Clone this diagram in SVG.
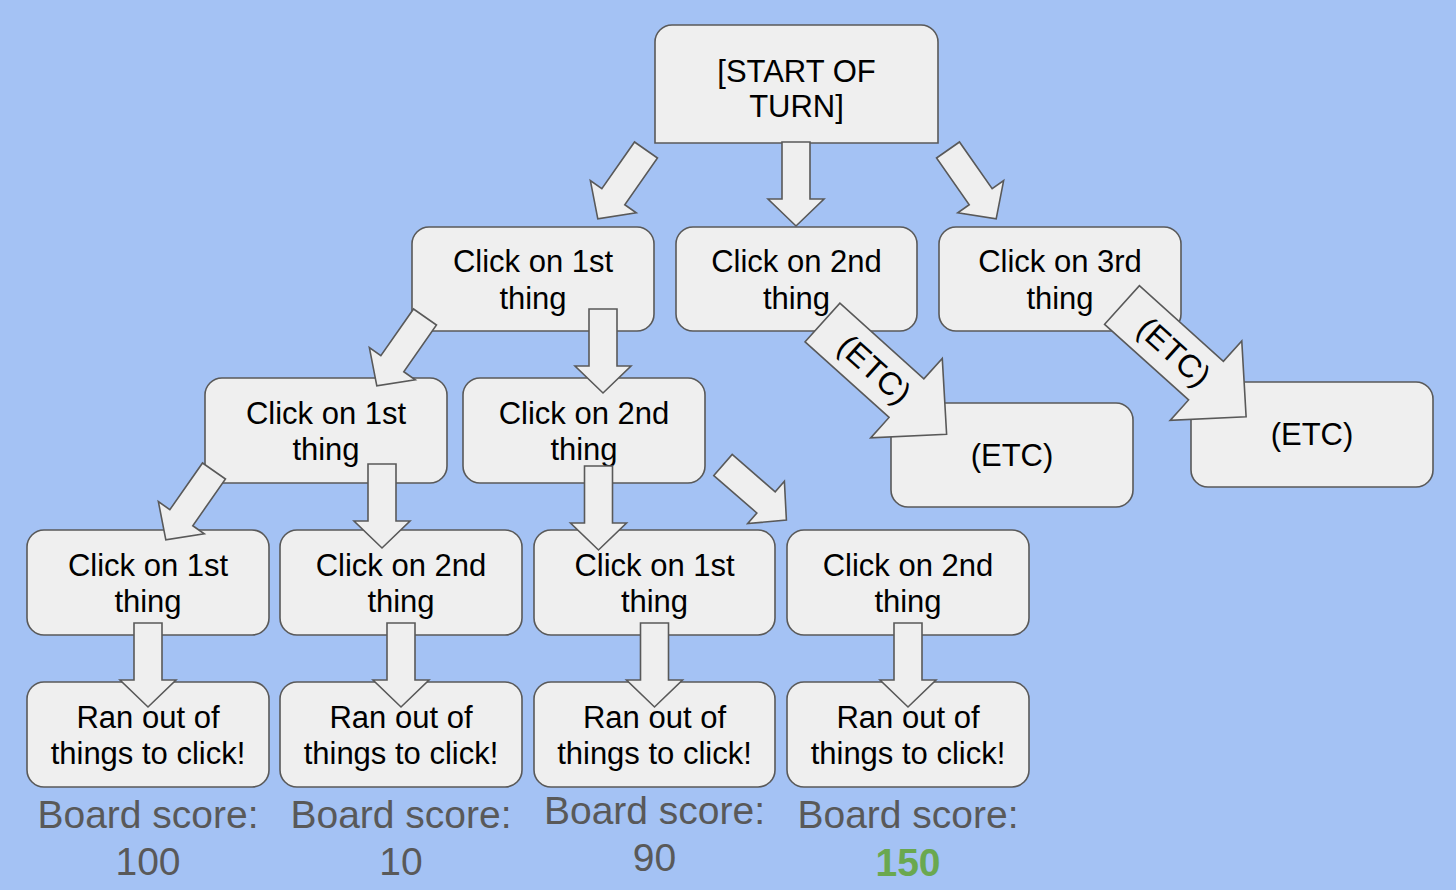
<svg xmlns="http://www.w3.org/2000/svg" xmlns:xlink="http://www.w3.org/1999/xlink" width="1456" height="890" viewBox="0 0 1456 890">
<style>
.box{fill:#efefef;stroke:#595959;stroke-width:1.6}
.arr{fill:#efefef;stroke:#595959;stroke-width:1.6;stroke-linejoin:miter}
.t{font-family:"Liberation Sans",Arial,sans-serif;font-size:31px;fill:#000;text-anchor:middle}
.s{font-family:"Liberation Sans",Arial,sans-serif;font-size:39px;fill:#595959;text-anchor:middle}
</style>
<defs>
<polygon id="a" points="-14,0 14,0 14,57 28,57 0,84 -28,57 -14,57"/>
<polygon id="big" points="-26,0 26,0 26,113 53.5,113 0,167 -53.5,113 -26,113"/>
</defs>
<rect width="1456" height="890" fill="#a4c2f4"/>
<g id="start">
<path class="box" d="M655,143 V42 A17,17 0 0 1 672,25 H921 A17,17 0 0 1 938,42 V143 Z"/>
<text class="t" x="796.5" y="82">[START OF</text>
<text class="t" x="796.5" y="117">TURN]</text>
</g>
<g id="l1a"><rect class="box" x="412" y="227" width="242" height="104" rx="17"/><text class="t" x="533" y="272">Click on 1st</text><text class="t" x="533" y="309">thing</text></g>
<g id="l1b"><rect class="box" x="676" y="227" width="241" height="104" rx="17"/><text class="t" x="796.5" y="272">Click on 2nd</text><text class="t" x="796.5" y="309">thing</text></g>
<g id="l1c"><rect class="box" x="939" y="227" width="242" height="104" rx="17"/><text class="t" x="1060" y="272">Click on 3rd</text><text class="t" x="1060" y="309">thing</text></g>
<g id="l2a"><rect class="box" x="205" y="378" width="242" height="105" rx="17"/><text class="t" x="326" y="424">Click on 1st</text><text class="t" x="326" y="460">thing</text></g>
<g id="l2b"><rect class="box" x="463" y="378" width="242" height="105" rx="17"/><text class="t" x="584" y="424">Click on 2nd</text><text class="t" x="584" y="460">thing</text></g>
<g id="etc1"><rect class="box" x="891" y="403" width="242" height="104" rx="17"/><text class="t" x="1012" y="466">(ETC)</text></g>
<g id="etc2"><rect class="box" x="1191" y="382" width="242" height="105" rx="17"/><text class="t" x="1312" y="445">(ETC)</text></g>
<g id="l3a"><rect class="box" x="27" y="530" width="242" height="105" rx="17"/><text class="t" x="148" y="576">Click on 1st</text><text class="t" x="148" y="612">thing</text></g>
<g id="l3b"><rect class="box" x="280" y="530" width="242" height="105" rx="17"/><text class="t" x="401" y="576">Click on 2nd</text><text class="t" x="401" y="612">thing</text></g>
<g id="l3c"><rect class="box" x="534" y="530" width="241" height="105" rx="17"/><text class="t" x="654.5" y="576">Click on 1st</text><text class="t" x="654.5" y="612">thing</text></g>
<g id="l3d"><rect class="box" x="787" y="530" width="242" height="105" rx="17"/><text class="t" x="908" y="576">Click on 2nd</text><text class="t" x="908" y="612">thing</text></g>
<g id="l4a"><rect class="box" x="27" y="682" width="242" height="105" rx="17"/><text class="t" x="148" y="728">Ran out of</text><text class="t" x="148" y="764">things to click!</text></g>
<g id="l4b"><rect class="box" x="280" y="682" width="242" height="105" rx="17"/><text class="t" x="401" y="728">Ran out of</text><text class="t" x="401" y="764">things to click!</text></g>
<g id="l4c"><rect class="box" x="534" y="682" width="241" height="105" rx="17"/><text class="t" x="654.5" y="728">Ran out of</text><text class="t" x="654.5" y="764">things to click!</text></g>
<g id="l4d"><rect class="box" x="787" y="682" width="242" height="105" rx="17"/><text class="t" x="908" y="728">Ran out of</text><text class="t" x="908" y="764">things to click!</text></g>
<g id="connectors">
<use href="#a" class="arr" transform="translate(646,150) rotate(35)"/>
<use href="#a" class="arr" transform="translate(796,142)"/>
<use href="#a" class="arr" transform="translate(948,150) rotate(-35)"/>
<use href="#a" class="arr" transform="translate(425,317) rotate(35)"/>
<use href="#a" class="arr" transform="translate(603,309)"/>
<use href="#a" class="arr" transform="translate(214,471) rotate(35)"/>
<use href="#a" class="arr" transform="translate(382,464)"/>
<use href="#a" class="arr" transform="translate(598.5,466)"/>
<use href="#a" class="arr" transform="translate(723,465) rotate(-49)"/>
<use href="#a" class="arr" transform="translate(148,623)"/>
<use href="#a" class="arr" transform="translate(401,623)"/>
<use href="#a" class="arr" transform="translate(654.5,623)"/>
<use href="#a" class="arr" transform="translate(908,623)"/>
<g transform="translate(822.5,322.5) rotate(-48)">
<use href="#big" class="arr"/>
<text class="t" transform="translate(0,70) rotate(90)" y="11" style="font-size:32px">(ETC)</text>
</g>
<g transform="translate(1122,305) rotate(-48)">
<use href="#big" class="arr"/>
<text class="t" transform="translate(0,70) rotate(90)" y="11" style="font-size:32px">(ETC)</text>
</g>
</g>
<g id="scores">
<text class="s" x="148" y="828">Board score:</text>
<text class="s" x="148" y="875">100</text>
<text class="s" x="401" y="828">Board score:</text>
<text class="s" x="401" y="875">10</text>
<text class="s" x="654.5" y="824">Board score:</text>
<text class="s" x="654.5" y="871">90</text>
<text class="s" x="908" y="828">Board score:</text>
<text class="s" x="908" y="876" style="fill:#6aa84f;font-weight:bold">150</text>
</g>
</svg>
